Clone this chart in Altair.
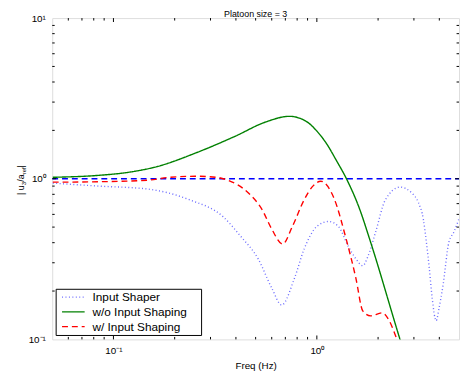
import altair as alt
import pandas as pd

names = ["Input Shaper", "w/o Input Shaping", "w/ Input Shaping"]
colors = ["#6a6aff", "#008000", "#ff0000"]
dashes = [[1, 2.5], [1, 0], [6, 4]]

shaper_f = [0.0503, 0.0847, 0.147, 0.237, 0.3455, 0.4217, 0.5146, 0.601, 0.671, 0.775, 0.866,
            1.0, 1.142, 1.276, 1.425, 1.557, 1.682, 1.778, 1.943, 2.171, 2.563, 2.926, 3.16,
            3.34, 3.455, 3.572, 3.69, 3.859, 3.99, 4.171, 4.457, 4.71, 4.98]
shaper_v = [0.939, 0.90, 0.863, 0.739, 0.581, 0.439, 0.317, 0.208, 0.1637, 0.239, 0.365,
            0.505, 0.542, 0.505, 0.381, 0.317, 0.2875, 0.326, 0.464, 0.739, 0.887, 0.815, 0.708,
            0.557, 0.403, 0.276, 0.1806, 0.1307, 0.157, 0.217, 0.403, 0.464, 0.557]

wo_f = [0.0503, 0.0847, 0.118, 0.1645, 0.256, 0.399, 0.556, 0.733, 0.885, 1.0, 1.117, 1.248,
        1.394, 1.627, 1.818, 2.563, 2.93]
wo_v = [1.021, 1.05, 1.096, 1.192, 1.453, 1.845, 2.247, 2.446, 2.28, 1.98, 1.65, 1.298,
        1.007, 0.642, 0.4205, 0.1, 0.058]

w_f = [0.0503, 0.0847, 0.147, 0.19, 0.256, 0.32, 0.365, 0.461, 0.538, 0.601, 0.679, 0.758,
       0.866, 0.946, 1.045, 1.207, 1.394, 1.557, 1.682, 1.838, 2.099, 2.269, 2.424, 2.506]
w_v = [0.952, 0.958, 0.979, 1.021, 1.036, 1.021, 0.979, 0.815, 0.642, 0.484, 0.392, 0.505,
       0.739, 0.887, 0.965, 0.77, 0.4205, 0.239, 0.1504, 0.1402, 0.1463, 0.1307, 0.1073, 0.096]

ref_f = [0.05, 5.0]
ref_v = [1.0, 1.0]

x_major = [0.1, 1.0]
x_minor = [0.06, 0.07, 0.08, 0.09, 0.2, 0.3, 0.4, 0.5, 0.6, 0.7, 0.8, 0.9, 2.0, 3.0, 4.0]
y_major = [1.0]
y_minor = [0.2, 0.3, 0.4, 0.5, 0.6, 0.7, 0.8, 0.9, 2.0, 3.0, 4.0, 5.0, 6.0, 7.0, 8.0, 9.0]

FONT = "Liberation Sans"
W, H = 414, 327

xs = alt.Scale(type="log", domain=[0.05, 5], nice=False)
ys = alt.Scale(type="log", domain=[0.1, 10], nice=False)

xaxis = alt.Axis(values=x_major, labelExpr="datum.value < 0.5 ? '10⁻¹' : '10⁰'",
                 title="Freq (Hz)", ticks=False, domain=False, grid=False,
                 labelPadding=6, titlePadding=6, labelFontSize=10, titleFontSize=10,
                 titleFontWeight="normal", labelFlush=False, labelOverlap=False,
                 labelFont=FONT, titleFont=FONT, labelColor="black", titleColor="black")
yaxis = alt.Axis(values=[0.1, 1, 10],
                 labelExpr="datum.value < 0.5 ? '10⁻¹' : (datum.value < 5 ? '10⁰' : '10¹')",
                 title=None, ticks=False, domain=False, grid=False, labelPadding=7,
                 labelFontSize=10, labelFlush=False, labelOverlap=False,
                 labelFont=FONT, labelColor="black")

X = alt.X("f:Q", scale=xs, axis=xaxis)
Y = alt.Y("v:Q", scale=ys, axis=yaxis)

ref = alt.Chart(pd.DataFrame({"f": ref_f, "v": ref_v})).mark_line(
    color="#0000ff", strokeDash=[6, 4], strokeWidth=1.3, clip=True).encode(x=X, y=Y)

series_layers = []
for name, col, dash, fs, vs in zip(names, colors, dashes,
                                    [shaper_f, wo_f, w_f], [shaper_v, wo_v, w_v]):
    d = pd.DataFrame({"f": fs, "v": vs, "series": name})
    series_layers.append(alt.Chart(d).mark_line(
        clip=True, strokeWidth=1.4, color=col, strokeDash=dash, interpolate="monotone").encode(x=X, y=Y))

def xticks(vals, ln):
    d = pd.DataFrame({"f": vals})
    b = alt.Chart(d).mark_rule(color="black", strokeWidth=1).encode(x=X, y=alt.value(H), y2=alt.value(H - ln))
    t = alt.Chart(d).mark_rule(color="black", strokeWidth=1).encode(x=X, y=alt.value(0), y2=alt.value(ln))
    return [b, t]

def yticks(vals, ln):
    d = pd.DataFrame({"v": vals})
    l = alt.Chart(d).mark_rule(color="black", strokeWidth=1).encode(y=Y, x=alt.value(0), x2=alt.value(ln))
    r = alt.Chart(d).mark_rule(color="black", strokeWidth=1).encode(y=Y, x=alt.value(W), x2=alt.value(W - ln))
    return [l, r]

ticks = xticks(x_major, 4) + xticks(x_minor, 2.5) + yticks(y_major, 4) + yticks(y_minor, 2.5)

one = pd.DataFrame({"a": [0]})

# legend (drawn by hand, MATLAB style)
legend = [alt.Chart(one).mark_rect(fill="white", stroke="black", strokeWidth=1).encode(
    x=alt.value(4), x2=alt.value(152), y=alt.value(276), y2=alt.value(323))]
for k, (name, col, dash) in enumerate(zip(names, colors, dashes)):
    yy = 284 + 15 * k
    legend.append(alt.Chart(one).mark_rule(color=col, strokeDash=dash, strokeWidth=1.4).encode(
        x=alt.value(10), x2=alt.value(33), y=alt.value(yy)))
    legend.append(alt.Chart(one).mark_text(align="left", baseline="middle", font=FONT,
                                           fontSize=12, color="black").encode(
        x=alt.value(41), y=alt.value(yy), text=alt.value(name)))

# y-axis title with subscripts: | u_3 / a_ref |
pieces = [("| u", 9, 0, 180), ("3", 6, 3, 170), ("/a", 9, 0, 166.5), ("ref", 6, 3, 159), (" |", 9, 0, 152)]
ylab = []
for txt, fs, dx, yy in pieces:
    ylab.append(alt.Chart(one).mark_text(
        angle=270, align="left", baseline="middle", font=FONT, fontSize=fs, color="black").encode(
        x=alt.value(-32 + dx), y=alt.value(yy), text=alt.value(txt)))

title = alt.Chart(one).mark_text(align="center", baseline="alphabetic", font=FONT, fontSize=9,
                                 color="black").encode(
    x=alt.value(W / 2), y=alt.value(-1.5), text=alt.value("Platoon size = 3"))

chart = alt.layer(ref, *series_layers, *ticks, *legend, *ylab, title).properties(
    width=W, height=H,
    autosize=alt.AutoSizeParams(type="none"),
    padding={"left": 45, "top": 7, "right": 2, "bottom": 35},
).configure_view(stroke="black", strokeWidth=1).configure(background="white")

chart.save("out.html", embed_options={"renderer": "svg", "actions": False})
